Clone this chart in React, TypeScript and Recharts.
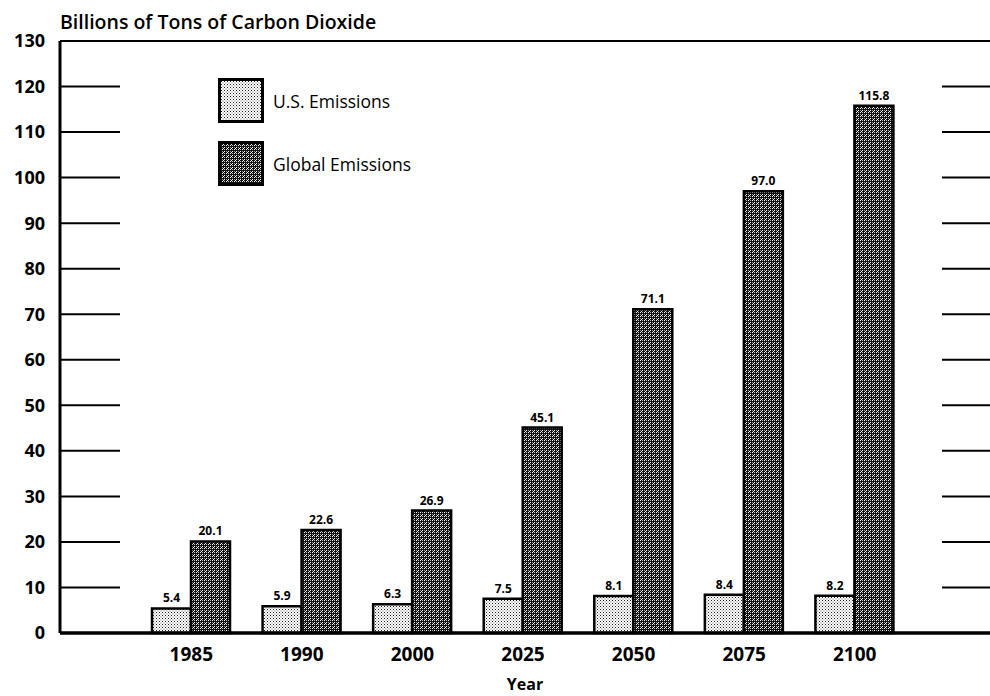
import { BarChart, Bar, XAxis, YAxis, CartesianGrid, ReferenceLine, LabelList } from "recharts";

const years = ["1985", "1990", "2000", "2025", "2050", "2075", "2100"];
const usEmissions = [5.4, 5.9, 6.3, 7.5, 8.1, 8.4, 8.2];
const globalEmissions = [20.1, 22.6, 26.9, 45.1, 71.1, 97.0, 115.8];
const yTicks = [0, 10, 20, 30, 40, 50, 60, 70, 80, 90, 100, 110, 120, 130];

const data = years.map((year, i) => ({
  year,
  us: usEmissions[i],
  global: globalEmissions[i],
}));

const font = "'Open Sans', 'DejaVu Sans', sans-serif";

const series = [
  { key: "us", name: "U.S. Emissions", fill: "url(#usDots)" },
  { key: "global", name: "Global Emissions", fill: "url(#globalHatch)" },
];

// legend drawn by hand, recharts' Legend steals plot height
function LegendBox() {
  return (
    <div style={{ position: "absolute", left: 218, top: 78, fontFamily: font }}>
      {series.map((s, i) => (
        <div key={s.key} style={{ display: "flex", alignItems: "center", marginBottom: i === 0 ? 18 : 0 }}>
          <svg width={46} height={45} style={{ display: "block" }}>
            <rect x={1.5} y={1.5} width={43} height={42} fill={s.fill} stroke="#000" strokeWidth={3} />
          </svg>
          <span style={{ marginLeft: 9, fontSize: 17.5, color: "#000", whiteSpace: "nowrap" }}>{s.name}</span>
        </div>
      ))}
    </div>
  );
}

const fmt = (v: number) => v.toFixed(1);

export default function App() {
  return (
    <div style={{ position: "absolute", left: 0, top: 0, width: 990, height: 696, background: "#fff" }}>
      <div
        style={{
          position: "absolute",
          left: 60,
          top: 8,
          fontFamily: font,
          fontSize: 19.5,
          fontWeight: 600,
          color: "#000",
          whiteSpace: "nowrap",
        }}
      >
        Billions of Tons of Carbon Dioxide
      </div>
      <BarChart
        width={990}
        height={696}
        data={data}
        margin={{ top: 41, right: 0, bottom: 0, left: 0 }}
        barSize={39}
        barGap={0}
      >
        <defs>
          <pattern id="usDots" width="3" height="3" patternUnits="userSpaceOnUse">
            <rect width="3" height="3" fill="#fff" />
            <rect x="0" y="0" width="1" height="1" fill="#222" />
            <rect x="1.5" y="1.5" width="1" height="1" fill="#666" />
          </pattern>
          <pattern id="globalHatch" width="4" height="4" patternUnits="userSpaceOnUse">
            <rect width="4" height="4" fill="#111" />
            <rect x="0" y="0" width="1" height="1" fill="#fff" />
            <rect x="2" y="2" width="1" height="1" fill="#fff" />
            <rect x="2" y="0" width="1" height="1" fill="#bbb" />
            <rect x="0" y="2" width="1" height="1" fill="#999" />
            <rect x="1" y="3" width="1" height="1" fill="#eee" />
          </pattern>
        </defs>
        <CartesianGrid
          vertical={false}
          stroke="#000"
          strokeWidth={2}
          strokeDasharray="60 822 48"
        />
        <ReferenceLine y={130} stroke="#000" strokeWidth={2} />
        <ReferenceLine y={0} stroke="#000" strokeWidth={3} />
        <XAxis
          dataKey="year"
          height={63}
          padding={{ left: 76, right: 80 }}
          axisLine={{ stroke: "#000", strokeWidth: 3 }}
          tickLine={false}
          tickSize={0}
          tickMargin={15}
          tick={{ fontFamily: font, fontSize: 19, fontWeight: 700, fill: "#000" }}
          label={{
            value: "Year",
            position: "insideBottom",
            offset: 6,
            style: { fontFamily: font, fontSize: 16, fontWeight: 700, fill: "#000" },
          }}
        />
        <YAxis
          width={60}
          domain={[0, 130]}
          ticks={yTicks}
          interval={0}
          axisLine={{ stroke: "#000", strokeWidth: 3 }}
          tickLine={false}
          tickSize={0}
          tickMargin={15}
          tick={{ fontFamily: font, fontSize: 18, fontWeight: 700, fill: "#000" }}
        />
        {series.map((s) => (
          <Bar
            key={s.key}
            dataKey={s.key}
            name={s.name}
            fill={s.fill}
            stroke="#000"
            strokeWidth={2.5}
            isAnimationActive={false}
          >
            <LabelList
              dataKey={s.key}
              position="top"
              offset={6}
              formatter={(v: any) => fmt(Number(v))}
              style={{ fontFamily: font, fontSize: 12, fontWeight: 700, fill: "#000" }}
            />
          </Bar>
        ))}
      </BarChart>
      <LegendBox />
    </div>
  );
}
